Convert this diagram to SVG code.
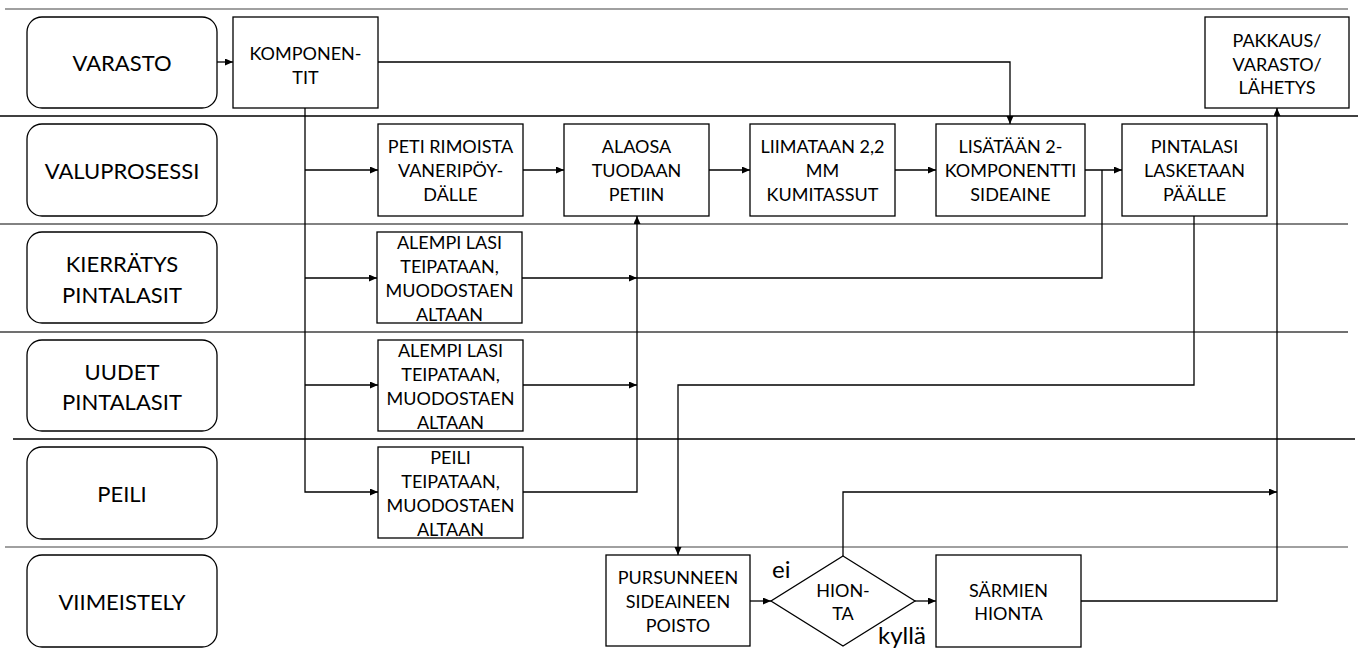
<svg xmlns="http://www.w3.org/2000/svg" width="1358" height="650" viewBox="0 0 1358 650">
  <style>
    .lane { fill: #fff; stroke: #000; stroke-width: 1.3; }
    .box { fill: #fff; stroke: #000; stroke-width: 1.3; }
    .sep { fill: none; stroke-width: 1.5; }
    .conn { fill: none; stroke: #000; stroke-width: 1.3; }
    .lt { font-family: Lato, "Open Sans", sans-serif; font-size: 22px; fill: #000; text-anchor: middle; }
    .bt { font-family: Lato, "Open Sans", sans-serif; font-size: 18px; fill: #000; text-anchor: middle; }
    .lbl { font-family: Lato, "Open Sans", sans-serif; font-size: 24px; fill: #000; }
  </style>
  <defs>
    <marker id="arrow" markerWidth="9" markerHeight="8" refX="8" refY="3.5" orient="auto" markerUnits="userSpaceOnUse">
      <path d="M0,0 L8,3.5 L0,7 z" fill="#000"/>
    </marker>
  </defs>
  <rect width="1358" height="650" fill="#fff"/>

  <!-- swimlane separators -->
  <g id="separators">
    <line class="sep" x1="5" y1="9" x2="1348" y2="9" stroke="#808080"/>
    <line class="sep" x1="0" y1="116" x2="1358" y2="116" stroke="#000"/>
    <line class="sep" x1="0" y1="224" x2="1348" y2="224" stroke="#595959"/>
    <line class="sep" x1="0" y1="332" x2="1348" y2="332" stroke="#404040"/>
    <line class="sep" x1="13" y1="439" x2="1355" y2="439" stroke="#000"/>
    <line class="sep" x1="5" y1="547" x2="1348" y2="547" stroke="#808080"/>
  </g>

  <!-- connectors -->
  <g id="connectors">
    <path class="conn" d="M217,62 H233" marker-end="url(#arrow)"/>
    <path class="conn" d="M378,62 H1010 V124" marker-end="url(#arrow)"/>
    <path class="conn" d="M305,108 V492 H378" marker-end="url(#arrow)"/>
    <path class="conn" d="M305,170 H378" marker-end="url(#arrow)"/>
    <path class="conn" d="M305,278 H377" marker-end="url(#arrow)"/>
    <path class="conn" d="M305,385 H378" marker-end="url(#arrow)"/>
    <path class="conn" d="M523,170 H564" marker-end="url(#arrow)"/>
    <path class="conn" d="M709,170 H750" marker-end="url(#arrow)"/>
    <path class="conn" d="M895,170 H936" marker-end="url(#arrow)"/>
    <path class="conn" d="M1085,170 H1122" marker-end="url(#arrow)"/>
    <path class="conn" d="M523,492 H637 V216" marker-end="url(#arrow)"/>
    <path class="conn" d="M522,278 H637" marker-end="url(#arrow)"/>
    <path class="conn" d="M523,385 H637" marker-end="url(#arrow)"/>
    <path class="conn" d="M637,278 H1102 V170" stroke="#333" stroke-width="1.6"/>
    <path class="conn" d="M1194,216 V385 H678 V555" marker-end="url(#arrow)"/>
    <path class="conn" d="M750,601 H771" marker-end="url(#arrow)"/>
    <path class="conn" d="M843,556 V492 H1277" marker-end="url(#arrow)"/>
    <path class="conn" d="M915,601 H936" marker-end="url(#arrow)"/>
    <path class="conn" d="M1081,601 H1277 V108" marker-end="url(#arrow)"/>
  </g>

  <!-- lane headers -->
  <g id="lane-varasto">
    <rect class="lane" x="27" y="17" width="190" height="91" rx="15"/>
    <text class="lt" x="122" y="71">VARASTO</text>
  </g>
  <g id="lane-valuprosessi">
    <rect class="lane" x="27" y="124" width="190" height="92" rx="15"/>
    <text class="lt" x="122" y="179">VALUPROSESSI</text>
  </g>
  <g id="lane-kierratys">
    <rect class="lane" x="27" y="232" width="190" height="91" rx="15"/>
    <text class="lt" x="122" y="272">KIERRÄTYS</text>
    <text class="lt" x="122" y="303">PINTALASIT</text>
  </g>
  <g id="lane-uudet">
    <rect class="lane" x="27" y="340" width="190" height="91" rx="15"/>
    <text class="lt" x="122" y="380">UUDET</text>
    <text class="lt" x="122" y="410">PINTALASIT</text>
  </g>
  <g id="lane-peili">
    <rect class="lane" x="27" y="447" width="190" height="92" rx="15"/>
    <text class="lt" x="122" y="502">PEILI</text>
  </g>
  <g id="lane-viimeistely">
    <rect class="lane" x="27" y="555" width="190" height="92" rx="15"/>
    <text class="lt" x="122" y="610">VIIMEISTELY</text>
  </g>

  <!-- process steps -->
  <g id="komponentit">
    <rect class="box" x="233" y="17" width="145" height="91"/>
    <text class="bt" x="305.5" y="60">KOMPONEN-</text>
    <text class="bt" x="305.5" y="84">TIT</text>
  </g>
  <g id="pakkaus">
    <rect class="box" x="1205" y="17" width="144" height="91"/>
    <text class="bt" x="1277" y="47">PAKKAUS/</text>
    <text class="bt" x="1277" y="71">VARASTO/</text>
    <text class="bt" x="1277" y="94">LÄHETYS</text>
  </g>
  <g id="peti">
    <rect class="box" x="378" y="124" width="145" height="92"/>
    <text class="bt" x="450.5" y="153">PETI RIMOISTA</text>
    <text class="bt" x="450.5" y="177">VANERIPÖY-</text>
    <text class="bt" x="450.5" y="201">DÄLLE</text>
  </g>
  <g id="alaosa">
    <rect class="box" x="564" y="124" width="145" height="92"/>
    <text class="bt" x="636.5" y="153">ALAOSA</text>
    <text class="bt" x="636.5" y="177">TUODAAN</text>
    <text class="bt" x="636.5" y="201">PETIIN</text>
  </g>
  <g id="liimataan">
    <rect class="box" x="750" y="124" width="145" height="92"/>
    <text class="bt" x="822.5" y="153">LIIMATAAN 2,2</text>
    <text class="bt" x="822.5" y="177">MM</text>
    <text class="bt" x="822.5" y="201">KUMITASSUT</text>
  </g>
  <g id="lisataan">
    <rect class="box" x="936" y="124" width="149" height="92"/>
    <text class="bt" x="1010.5" y="153">LISÄTÄÄN 2-</text>
    <text class="bt" x="1010.5" y="177">KOMPONENTTI</text>
    <text class="bt" x="1010.5" y="201">SIDEAINE</text>
  </g>
  <g id="pintalasi">
    <rect class="box" x="1122" y="124" width="145" height="92"/>
    <text class="bt" x="1194.5" y="153">PINTALASI</text>
    <text class="bt" x="1194.5" y="177">LASKETAAN</text>
    <text class="bt" x="1194.5" y="201">PÄÄLLE</text>
  </g>
  <g id="alempi-kierratys">
    <rect class="box" x="377" y="232" width="145" height="91"/>
    <text class="bt" x="449.5" y="249">ALEMPI LASI</text>
    <text class="bt" x="449.5" y="273">TEIPATAAN,</text>
    <text class="bt" x="449.5" y="297">MUODOSTAEN</text>
    <text class="bt" x="449.5" y="321">ALTAAN</text>
  </g>
  <g id="alempi-uudet">
    <rect class="box" x="378" y="340" width="145" height="91"/>
    <text class="bt" x="450.5" y="357">ALEMPI LASI</text>
    <text class="bt" x="450.5" y="381">TEIPATAAN,</text>
    <text class="bt" x="450.5" y="405">MUODOSTAEN</text>
    <text class="bt" x="450.5" y="429">ALTAAN</text>
  </g>
  <g id="peili-teipataan">
    <rect class="box" x="378" y="447" width="145" height="91"/>
    <text class="bt" x="450.5" y="464">PEILI</text>
    <text class="bt" x="450.5" y="488">TEIPATAAN,</text>
    <text class="bt" x="450.5" y="512">MUODOSTAEN</text>
    <text class="bt" x="450.5" y="536">ALTAAN</text>
  </g>
  <g id="pursunneen">
    <rect class="box" x="606" y="555" width="144" height="91"/>
    <text class="bt" x="678" y="584">PURSUNNEEN</text>
    <text class="bt" x="678" y="608">SIDEAINEEN</text>
    <text class="bt" x="678" y="632">POISTO</text>
  </g>
  <g id="hionta">
    <polygon class="box" points="843,556 915,601 843,646 771,601"/>
    <text class="bt" x="843" y="597">HION-</text>
    <text class="bt" x="843" y="620">TA</text>
  </g>
  <g id="sarmien">
    <rect class="box" x="936" y="555" width="145" height="92"/>
    <text class="bt" x="1008.5" y="597">SÄRMIEN</text>
    <text class="bt" x="1008.5" y="620">HIONTA</text>
  </g>

  <!-- decision labels -->
  <g id="labels">
    <text class="lbl" x="772" y="578">ei</text>
    <text class="lbl" x="878" y="644">kyllä</text>
  </g>
</svg>
